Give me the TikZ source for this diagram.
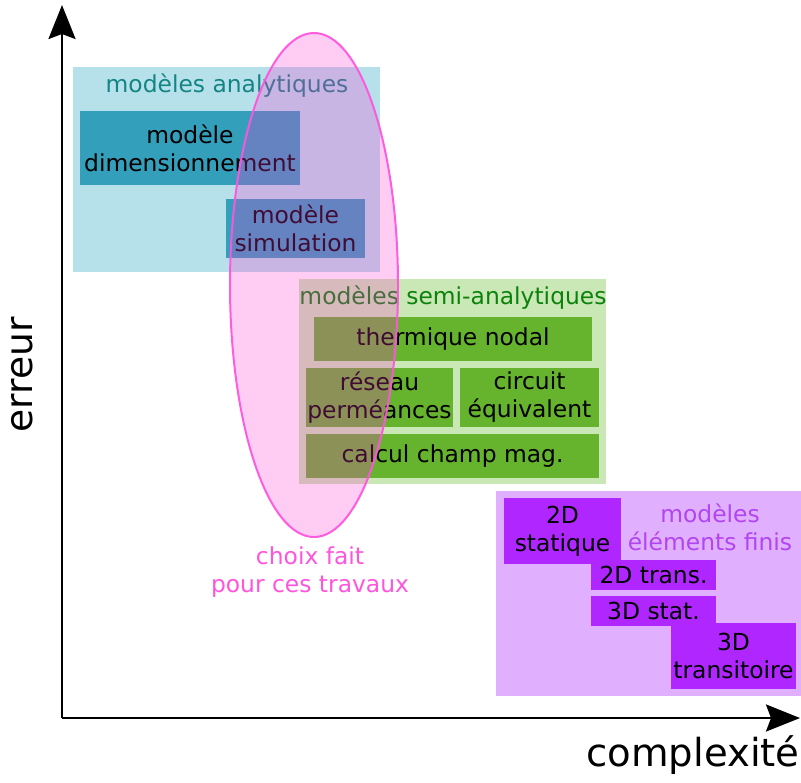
\documentclass[tikz,border=0pt]{standalone}
\usepackage{fontspec}
\setmainfont{DejaVu Sans}
\usetikzlibrary{arrows.meta, shapes.geometric, positioning}
\definecolor{anaback}{HTML}{B7E1EA}
\definecolor{anabox}{HTML}{339FBB}
\definecolor{anatext}{HTML}{138585}
\definecolor{semiback}{HTML}{C9E8B5}
\definecolor{semibox}{HTML}{66B32E}
\definecolor{semitext}{HTML}{0C820C}
\definecolor{feback}{HTML}{E0B0FF}
\definecolor{febox}{HTML}{B026FF}
\definecolor{fetext}{HTML}{B245F0}
\definecolor{choixpink}{HTML}{FF33D3}
\definecolor{choixline}{HTML}{FF55DD}
\tikzset{
  axe/.style = {-{Stealth[length=17pt,width=13.5pt,inset=2.5pt]}, line width=1.2pt, black},
  fond/.style = {rectangle, inner sep=0pt, outer sep=0pt},
  boite/.style = {rectangle, inner sep=0pt, outer sep=0pt, align=center,
                  font=\fontsize{11.7}{14}\selectfont, text=black},
  titre/.style = {align=center, inner sep=0pt, font=\fontsize{11.7}{14}\selectfont},
  axetxt/.style = {inner sep=0pt, font=\fontsize{18.8}{22}\selectfont},
  choix/.style = {ellipse, draw=choixline, line width=1pt,
                  fill=choixpink, fill opacity=0.25, draw opacity=0.95,
                  inner sep=0pt, minimum width=84pt, minimum height=252pt}
}

\begin{document}
\begin{tikzpicture}[x=0.5pt, y=-0.5pt]
  \useasboundingbox (0,0) rectangle (801,782);

  %% Axes
  \coordinate (O) at (62,718);
  \coordinate (Ytop) at (62,5);
  \coordinate (Xend) at (800,718);
  \draw[axe] (O) -- (Ytop);
  \draw[axe] (O) -- (Xend);
  \node[axetxt, rotate=90] (err) at (22,375) {erreur};
  \node[axetxt, font=\fontsize{19.3}{23}\selectfont] (cpx) at (693,755) {complexité};

  %% Modeles analytiques
  \node[fond, fill=anaback, minimum width=153.5pt, minimum height=102.5pt] (ana) at (226.5,169.5) {};
  \node[boite, fill=anabox, minimum width=110pt, minimum height=37pt] (dim) at (190,148) {modèle\\dimensionnement};
  \node[boite, fill=anabox, minimum width=69.5pt, minimum height=29.5pt] (sim) at (295.5,228.5) {modèle\\simulation};
  \node[titre, text=anatext] (anat) at (227,86) {modèles analytiques};

  %% Modeles semi-analytiques
  \node[fond, fill=semiback, minimum width=153.5pt, minimum height=102.5pt] (semi) at (452.5,381.5) {};
  \node[boite, fill=semibox, minimum width=139pt, minimum height=22pt] (therm) at (453,339) {thermique nodal};
  \node[boite, fill=semibox, minimum width=73.5pt, minimum height=29.5pt] (res) at (379.5,397.5) {réseau\\perméances};
  \node[boite, fill=semibox, minimum width=69.5pt, minimum height=29.5pt] (circ) at (529.5,397.5) {circuit\\équivalent};
  \node[boite, fill=semibox, minimum width=146.5pt, minimum height=22pt] (calc) at (452.5,456) {calcul champ mag.};
  \node[titre, text=semitext] (semit) at (453,298) {modèles semi-analytiques};

  %% Modeles elements finis
  \node[fond, fill=feback, minimum width=152.5pt, minimum height=102.5pt] (fe) at (648.5,593.5) {};
  \node[boite, fill=febox, minimum width=62.5pt, minimum height=15pt] (tr2) at (653.5,575) {2D trans.};
  \node[boite, fill=febox, minimum width=58.5pt, minimum height=33pt] (st2) at (562.5,531) {2D\\statique};
  \node[boite, fill=febox, minimum width=62.5pt, minimum height=15pt] (st3) at (653.5,611) {3D stat.};
  \node[boite, fill=febox, minimum width=62.5pt, minimum height=33pt] (tr3) at (733.5,656) {3D\\transitoire};
  \node[titre, text=fetext] (fet) at (710,527) {modèles\\éléments finis};

  %% Choix
  \node[choix] (ch) at (314,285) {};
  \node[titre, text=choixline, below=4pt of ch, xshift=-2pt] (cht) {choix fait\\pour ces travaux};
\end{tikzpicture}
\end{document}
